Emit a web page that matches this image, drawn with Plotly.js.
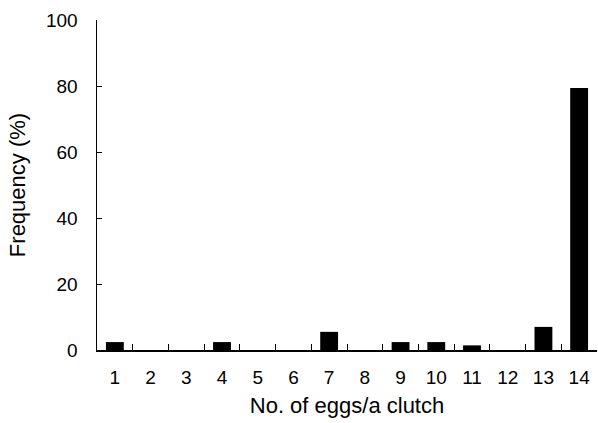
<!DOCTYPE html>
<html><head><meta charset="utf-8">
<script src="https://cdn.plot.ly/plotly-3.0.1.min.js"></script>
<style>body{margin:0;background:#fff}#c{width:598px;height:423px}</style>
</head><body><div id="c"></div>
<script>
const categories = ['1','2','3','4','5','6','7','8','9','10','11','12','13','14'];
const frequency = [2.4, 0, 0, 2.4, 0, 0, 5.5, 0, 2.4, 2.4, 1.4, 0, 7.0, 79.4];
const yTicks = [0, 20, 40, 60, 80, 100];

const fam = 'Liberation Sans, Arial, sans-serif';
const tickFont = {family: fam, size: 19, color: '#000'};
const titleFont = {family: fam, size: 22, color: '#000'};
Plotly.newPlot('c', [{
  type: 'bar', x: categories, y: frequency, width: 0.5,
  marker: {color: '#000', line: {width: 0}}
}], {
  width: 598, height: 423,
  margin: {l: 97, r: 1, t: 20, b: 73},
  paper_bgcolor: '#fff', plot_bgcolor: '#fff',
  showlegend: false, font: tickFont,
  xaxis: {
    type: 'category', range: [-0.5, 13.5], tickson: 'boundaries',
    ticks: 'inside', ticklen: 6, tickwidth: 1, tickcolor: '#000',
    showline: true, linecolor: '#000', linewidth: 1.5, showgrid: false, zeroline: false,
    tickfont: tickFont, ticklabelstandoff: 10,
    title: {text: 'No. of eggs/a clutch', font: titleFont, standoff: 10}
  },
  yaxis: {
    range: [0, 100], tickvals: yTicks, ticks: 'inside', ticklen: 5, tickcolor: '#000',
    showline: true, linecolor: '#000', linewidth: 1.5, showgrid: false, zeroline: false,
    tickfont: tickFont, ticklabelstandoff: 14,
    title: {text: 'Frequency (%)', font: titleFont, standoff: 14}
  }
}, {staticPlot: true});
</script></body></html>
